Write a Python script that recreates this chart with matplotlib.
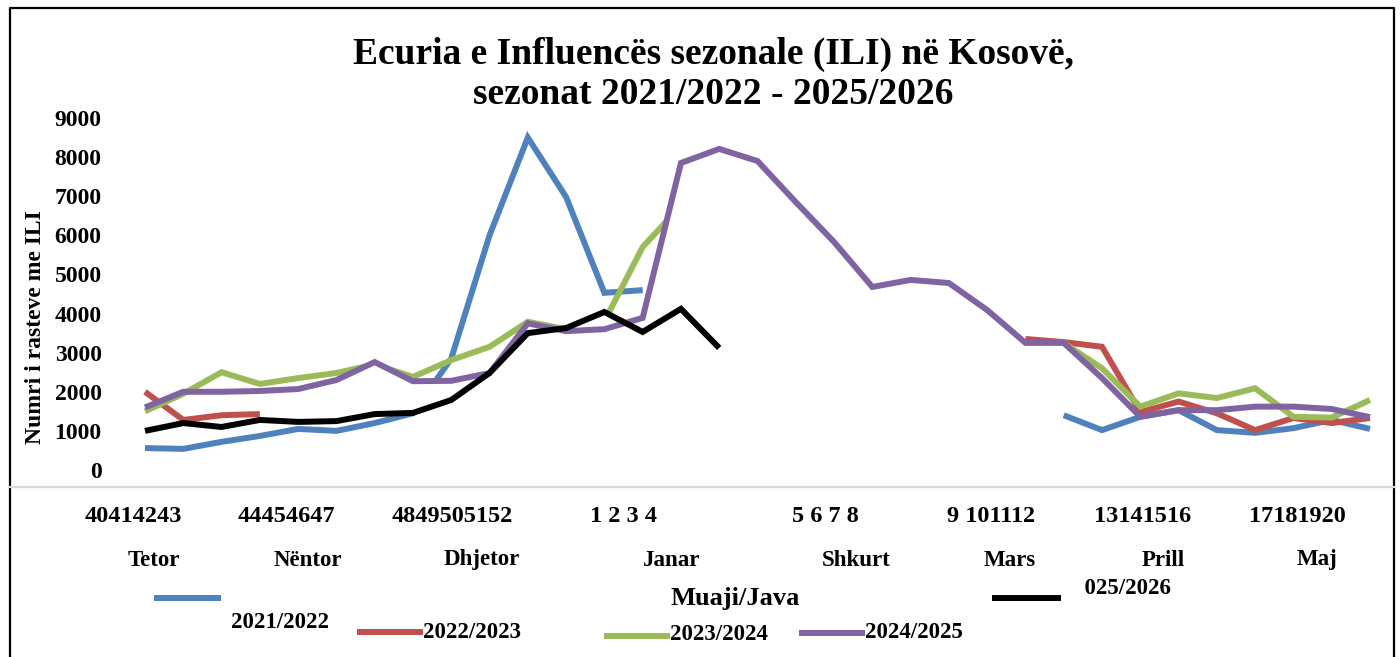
import numpy as np
import matplotlib
matplotlib.use("Agg")
import matplotlib.pyplot as plt
from matplotlib.lines import Line2D
from matplotlib.transforms import Bbox, TransformedBbox

nan = np.nan

# ---------------- data ----------------
weeks = list(range(40, 53)) + list(range(1, 21))          # 33 weekly categories
week_groups = ["40414243", "44454647", "4849505152", "1 2 3 4",
               "5 6 7 8", "9 101112", "13141516", "17181920"]
months = ["Tetor", "Nëntor", "Dhjetor", "Janar", "Shkurt", "Mars", "Prill", "Maj"]

s2021_2022 = [560, 540, 720, 870, 1050, 1000, 1200, 1450, 2850, 6000, 8500, 6980, 4530, 4600] \
    + [nan] * 10 + [1400, 1020, 1360, 1530, 1020, 950, 1070, 1280, 1050]
s2022_2023 = [2000, 1280, 1400, 1430] + [nan] * 19 \
    + [3350, 3270, 3150, 1480, 1750, 1450, 1020, 1330, 1200, 1330]
s2023_2024 = [1500, 1950, 2500, 2200, 2350, 2480, 2700, 2380, 2810, 3150, 3790, 3600, 3800, 5700, 6760] \
    + [nan] * 9 + [3250, 2600, 1620, 1960, 1840, 2090, 1360, 1340, 1790]
s2024_2025 = [1600, 2000, 2000, 2020, 2070, 2300, 2760, 2270, 2280, 2480, 3750, 3550, 3600, 3890,
              7850, 8210, 7900, 6850, 5830, 4680, 4860, 4780, 4090, 3250, 3250, 2350, 1360,
              1530, 1530, 1620, 1620, 1560, 1350]
s2025_2026 = [1000, 1200, 1100, 1280, 1230, 1250, 1430, 1460, 1790, 2480, 3500, 3630, 4040,
              3530, 4120, 3120] + [nan] * 17

series_names = ["2021/2022", "2022/2023", "2023/2024", "2024/2025", "2025/2026"]
series_vals = [s2021_2022, s2022_2023, s2023_2024, s2024_2025, s2025_2026]
colors = ["#4F81BD", "#C0504D", "#9BBB59", "#8064A2", "#000000"]

# ---------------- figure ----------------
W, H = 1400, 657
fig = plt.figure(figsize=(W / 100, H / 100), dpi=100)
plt.rcParams['font.family'] = ['Liberation Serif', 'DejaVu Serif']

def fx(x):
    return x / W

def fy(y):
    return 1 - y / H

FONT = dict(family=['Liberation Serif', 'DejaVu Serif'], weight='bold')

ax_l, ax_r, ax_t, ax_b = 110, 1390, 118, 470
ax = fig.add_axes([fx(ax_l), fy(ax_b), (ax_r - ax_l) / W, (ax_b - ax_t) / H])
ax.set_facecolor('none')
for s in ax.spines.values():
    s.set_visible(False)

x = np.arange(len(weeks))
step = (1370 - 145) / 32
ax.set_xlim(-(145 - ax_l) / step, 32 + (ax_r - 1370) / step)
ax.set_ylim(0, 9000)
ax.set_yticks(range(0, 9001, 1000))
ax.set_yticklabels([str(v) for v in range(0, 9001, 1000)], fontdict=dict(size=17, **FONT))
ax.set_xticks([])
ax.tick_params(axis='y', length=0, pad=6)

zorders = [2, 2.1, 2.2, 4, 5]
for vals, c, z in zip(series_vals, colors, zorders):
    ax.plot(x, np.array(vals, dtype=float), color=c, lw=4.3, zorder=z,
            solid_joinstyle='miter', solid_capstyle='butt')

# white area hiding lines between the 2025/2026 and 2024/2025 curves (as in the source render)
lo = np.array(s2025_2026, dtype=float)
hi = np.array(s2024_2025, dtype=float)
ax.fill_between(x[4:16], lo[4:16], hi[4:16], color='white', lw=0, zorder=3)

# ---------------- texts ----------------
fig.text(fx(713), fy(54), "Ecuria e Influencës sezonale (ILI) në Kosovë,", ha='center', va='center',
         size=27, **FONT)
fig.text(fx(713), fy(94), "sezonat 2021/2022 - 2025/2026", ha='center', va='center', size=27, **FONT)

fig.text(fx(36), fy(327), "Numri i rasteve me ILI", rotation=90, ha='center', va='center',
         size=17, **FONT)

wg_x = [133, 286, 452, 624, 825, 991, 1143, 1297]
for lab, cx in zip(week_groups, wg_x):
    fig.text(fx(cx), fy(517), lab, ha='center', va='center', size=17.5, **FONT)
mo_x = [154, 308, 482, 672, 856, 1010, 1163, 1317]
for lab, cx in zip(months, mo_x):
    fig.text(fx(cx), fy(560), lab, ha='center', va='center', size=16.5, **FONT)

fig.text(fx(735), fy(598), "Muaji/Java", ha='center', va='center', size=19, **FONT)

# legend (scattered as in the reference)
leg_lines = [(154, 221, 598), (357, 423, 632), (604, 670, 636), (799, 865, 633), (992, 1061, 598)]
for (x0, x1, yy), c in zip(leg_lines, colors):
    fig.add_artist(Line2D([fx(x0), fx(x1)], [fy(yy), fy(yy)], color=c, lw=4.3,
                          solid_capstyle='butt', transform=fig.transFigure))

fig.text(fx(280), fy(623), series_names[0], ha='center', va='center', size=16.5, **FONT)
fig.text(fx(423), fy(632), series_names[1], ha='left', va='center', size=16.5, **FONT)
fig.text(fx(670), fy(635), series_names[2], ha='left', va='center', size=16.5, **FONT)
fig.text(fx(865), fy(632), series_names[3], ha='left', va='center', size=16.5, **FONT)
t5 = fig.text(fx(1171), fy(588), series_names[4], ha='right', va='center', size=16.5, **FONT)
t5.set_clip_box(TransformedBbox(Bbox.from_extents(fx(1084), 0, 1, 1), fig.transFigure))
t5.set_clip_on(True)

# frame and separator line
fig.add_artist(Line2D([fx(10), fx(10), fx(1394), fx(1394)], [0, fy(8), fy(8), 0],
                      color='black', lw=1.6, transform=fig.transFigure))
fig.add_artist(Line2D([fx(10), fx(1394)], [fy(487), fy(487)], color='#d9d9d9', lw=1.6,
                      transform=fig.transFigure))

fig.savefig("out.png", dpi=100)
